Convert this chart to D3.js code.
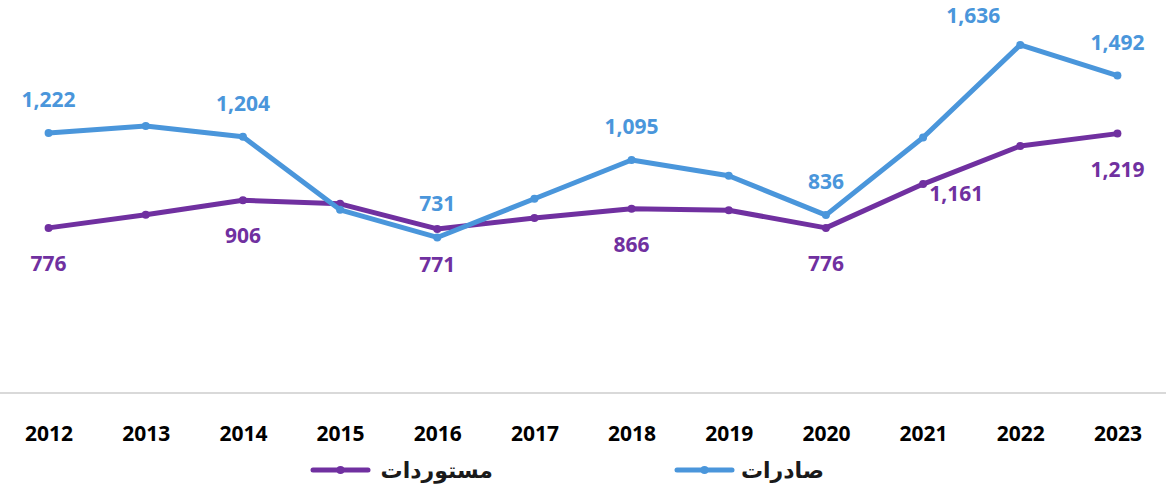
<!DOCTYPE html>
<html>
<head>
<meta charset="utf-8">
<script src="https://cdn.jsdelivr.net/npm/d3@7"></script>
<style>
  body { margin: 0; background: #fff; }
  svg { display: block; }
</style>
</head>
<body>
<script>
// size of the picture
var w = 1172;
var h = 489;

// data
var years = ["2012","2013","2014","2015","2016","2017","2018","2019","2020","2021","2022","2023"];
var exportsValues = [1222, 1255, 1204, 861, 731, 913, 1095, 1021, 836, 1201, 1636, 1492];
var importsValues = [776, 838, 906, 889, 771, 822, 866, 859, 776, 982, 1161, 1219];
var exportsLabelled = [0, 2, 4, 6, 8, 10, 11];
var importsLabelled = [0, 2, 4, 6, 8, 10, 11];
var legendNames = ["صادرات", "مستوردات"];

var blue = "#4A96DB";
var purple = "#7030A0";

var xScale = d3.scalePoint()
    .domain(years)
    .range([0, 1166])
    .padding(0.5);

var yScale = d3.scaleLinear()
    .domain([0, 1800])
    .range([393, 10]);

var fmt = d3.format(",");

var svg = d3.select("body")
    .append("svg")
    .attr("width", w)
    .attr("height", h);

// baseline
svg.append("line")
   .attr("x1", 0)
   .attr("x2", 1166)
   .attr("y1", yScale(0))
   .attr("y2", yScale(0))
   .attr("stroke", "#d9d9d9")
   .attr("stroke-width", 2);

// year labels
var xAxis = d3.axisBottom(xScale).tickSize(0).tickPadding(0);
var gx = svg.append("g")
   .attr("transform", "translate(0," + 426 + ")")
   .call(xAxis);
gx.select(".domain").remove();
gx.selectAll("text")
   .attr("dy", "0.71em")
   .attr("font-family", "'Noto Sans', sans-serif")
   .attr("font-weight", "bold")
   .attr("font-size", "21px")
   .attr("fill", "#000");

var series = [
    { name: legendNames[0], values: exportsValues, color: blue, labelled: exportsLabelled, dy: -26 },
    { name: legendNames[1], values: importsValues, color: purple, labelled: importsLabelled, dy: 43 }
];

// a couple of labels sit away from their point in the original
var labelShift = { "0-10": [-47, 4], "1-10": [-64, 12] };

var line = d3.line()
    .x(function(d, i) { return xScale(years[i]); })
    .y(function(d) { return yScale(d); });

// draw imports first so exports sit on top
[series[1], series[0]].forEach(function(s) {
    var si = series.indexOf(s);
    svg.append("path")
       .datum(s.values)
       .attr("d", line)
       .attr("fill", "none")
       .attr("stroke", s.color)
       .attr("stroke-width", 5)
       .attr("stroke-linejoin", "round")
       .attr("stroke-linecap", "round");

    svg.selectAll("circle.s" + si)
       .data(s.values)
       .enter()
       .append("circle")
       .attr("class", "s" + si)
       .attr("cx", function(d, i) { return xScale(years[i]); })
       .attr("cy", function(d) { return yScale(d); })
       .attr("r", 4)
       .attr("fill", s.color);
});

series.forEach(function(s, si) {
    svg.selectAll("text.lab" + si)
       .data(s.labelled)
       .enter()
       .append("text")
       .attr("class", "lab" + si)
       .text(function(i) { return fmt(s.values[i]); })
       .attr("text-anchor", "middle")
       .attr("x", function(i) {
           var sh = labelShift[si + "-" + i];
           return xScale(years[i]) + (sh ? sh[0] : 0);
       })
       .attr("y", function(i) {
           var sh = labelShift[si + "-" + i];
           return yScale(s.values[i]) + s.dy + (sh ? sh[1] : 0);
       })
       .attr("font-family", "'Noto Sans', sans-serif")
       .attr("font-weight", "bold")
       .attr("font-size", "21px")
       .attr("fill", s.color);
});

// legend
var legendPos = [{ x1: 677, x2: 732, tx: 824 }, { x1: 313, x2: 368, tx: 493 }];
var legend = svg.selectAll("g.legend")
    .data(series)
    .enter()
    .append("g")
    .attr("class", "legend");

legend.append("line")
   .attr("x1", function(d, i) { return legendPos[i].x1; })
   .attr("x2", function(d, i) { return legendPos[i].x2; })
   .attr("y1", 470)
   .attr("y2", 470)
   .attr("stroke", function(d) { return d.color; })
   .attr("stroke-width", 5)
   .attr("stroke-linecap", "round");

legend.append("circle")
   .attr("cx", function(d, i) { return (legendPos[i].x1 + legendPos[i].x2) / 2; })
   .attr("cy", 470)
   .attr("r", 4)
   .attr("fill", function(d) { return d.color; });

legend.append("text")
   .text(function(d) { return d.name; })
   .attr("text-anchor", "end")
   .attr("x", function(d, i) { return legendPos[i].tx; })
   .attr("y", 478)
   .attr("font-family", "'DejaVu Sans', sans-serif")
   .attr("font-weight", "bold")
   .attr("font-size", "22px")
   .attr("fill", "#1a1a1a");
</script>
</body>
</html>
